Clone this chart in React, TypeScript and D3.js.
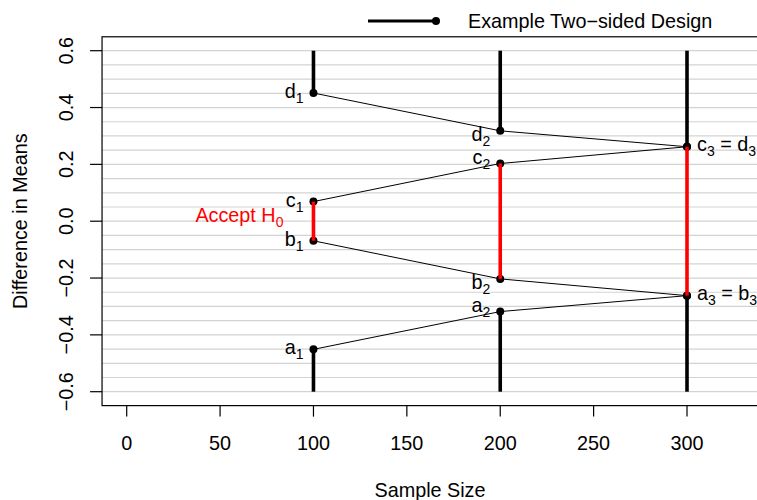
import React from "react";
import * as d3 from "d3";

// Analysis sample sizes and the four boundary values (a < b < c < d) at each analysis
const sampleSizes = [100, 200, 300];
const boundA = [-0.451, -0.318, -0.262];
const boundB = [-0.069, -0.203, -0.262];
const boundC = [0.069, 0.203, 0.262];
const boundD = [0.451, 0.318, 0.262];

const xTicks = [0, 50, 100, 150, 200, 250, 300];
const yTicks = [-0.6, -0.4, -0.2, 0.0, 0.2, 0.4, 0.6];
const gridValues = d3.range(-12, 13).map((i) => i * 0.05);

const legendLabel = "Example Two\u2212sided Design";
const xTitle = "Sample Size";
const yTitle = "Difference in Means";

const W = 757;
const H = 500;
const FONT = "'Liberation Sans', Arial, Helvetica, sans-serif";
const FS = 19.8;
const SUB = 14;

const x = d3.scaleLinear().domain([0, 300]).range([126.7, 687]);
const y = d3.scaleLinear().domain([-0.6, 0.6]).range([391.7, 50.7]);

const box = { left: x(-13.2), right: x(338), top: y(0.649), bottom: y(-0.649) };

export default function App() {
  const letters = ["a", "b", "c", "d"];
  const bounds = [boundA, boundB, boundC, boundD];
  const lineGen = d3
    .line<number>()
    .x((_, i) => x(sampleSizes[i]))
    .y((v) => y(v));

  return (
    <svg width={W} height={H} style={{ display: "block", position: "absolute", left: 0, top: 0 }} fontFamily={FONT}>
      <rect width={W} height={H} fill="white" />
      {/* horizontal grid */}
      {gridValues.map((g, i) => (
        <line key={i} x1={box.left} x2={box.right} y1={y(g)} y2={y(g)} stroke="#d3d3d3" strokeWidth={1.2} />
      ))}

      {/* boundary connecting lines */}
      {bounds.map((b, i) => (
        <path key={i} d={lineGen(b) || ""} fill="none" stroke="black" strokeWidth={1} />
      ))}

      {/* rejection regions (black) */}
      {sampleSizes.map((n, i) => (
        <g key={"rej" + i}>
          <line x1={x(n)} x2={x(n)} y1={y(boundD[i])} y2={y(0.6)} stroke="black" strokeWidth={3.6} />
          <line x1={x(n)} x2={x(n)} y1={y(boundA[i])} y2={y(-0.6)} stroke="black" strokeWidth={3.6} />
        </g>
      ))}

      {/* boundary points */}
      {sampleSizes.map((n, i) =>
        bounds.map((b, j) => <circle key={i + "-" + j} cx={x(n)} cy={y(b[i])} r={4} fill="black" />)
      )}

      {/* acceptance regions (red) */}
      {sampleSizes.map((n, i) => (
        <line key={"acc" + i} x1={x(n)} x2={x(n)} y1={y(boundB[i])} y2={y(boundC[i])} stroke="#ff0000" strokeWidth={3.6} />
      ))}

      {/* point labels, stages 1 and 2 */}
      {sampleSizes.slice(0, 2).map((n, i) =>
        bounds.map((b, j) => {
          const dy = i === 0 ? 5 : j === 1 || j === 3 ? 10 : 0;
          return (
            <text key={"lab" + i + j} x={x(n) - 10} y={y(b[i]) + dy} fontSize={FS} textAnchor="end">
              <tspan>{letters[j]}</tspan>
              <tspan fontSize={SUB} dy={5}>{String(i + 1)}</tspan>
            </text>
          );
        })
      )}
      {/* final-stage labels */}
      <text x={x(300) + 10} y={y(boundC[2]) + 4} fontSize={FS}>
        <tspan>c</tspan>
        <tspan fontSize={SUB} dy={5}>3</tspan>
        <tspan dy={-5}> = d</tspan>
        <tspan fontSize={SUB} dy={5}>3</tspan>
      </text>
      <text x={x(300) + 10} y={y(boundA[2]) + 4} fontSize={FS}>
        <tspan>a</tspan>
        <tspan fontSize={SUB} dy={5}>3</tspan>
        <tspan dy={-5}> = b</tspan>
        <tspan fontSize={SUB} dy={5}>3</tspan>
      </text>

      {/* acceptance annotation */}
      <text x={x(100) - 30} y={y(0) + 1} fontSize={FS} fill="#ff0000" textAnchor="end">
        <tspan>Accept H</tspan>
        <tspan fontSize={SUB} dy={5}>0</tspan>
      </text>

      {/* plot frame */}
      <rect x={box.left} y={box.top} width={box.right - box.left} height={box.bottom - box.top} fill="none" stroke="black" strokeWidth={1.2} />

      {/* x axis */}
      {xTicks.map((t) => (
        <g key={"xt" + t}>
          <line x1={x(t)} x2={x(t)} y1={box.bottom} y2={box.bottom + 11} stroke="black" strokeWidth={1.2} />
          <text x={x(t)} y={450} fontSize={FS} textAnchor="middle">{t}</text>
        </g>
      ))}
      <text x={(box.left + box.right) / 2} y={497} fontSize={FS} textAnchor="middle">{xTitle}</text>

      {/* y axis */}
      {yTicks.map((t) => (
        <g key={"yt" + t}>
          <line x1={box.left} x2={box.left - 12} y1={y(t)} y2={y(t)} stroke="black" strokeWidth={1.2} />
          <text transform={`translate(73,${y(t)}) rotate(-90)`} fontSize={FS} textAnchor="middle">
            {d3.format(".1f")(t).replace("-", "\u2212")}
          </text>
        </g>
      ))}
      <text transform={`translate(27,${(box.top + box.bottom) / 2}) rotate(-90)`} fontSize={FS} textAnchor="middle">{yTitle}</text>

      {/* legend */}
      <line x1={368} x2={436} y1={21} y2={21} stroke="black" strokeWidth={3} />
      <circle cx={436} cy={21} r={4} fill="black" />
      <text x={468} y={28} fontSize={FS}>{legendLabel}</text>
    </svg>
  );
}
